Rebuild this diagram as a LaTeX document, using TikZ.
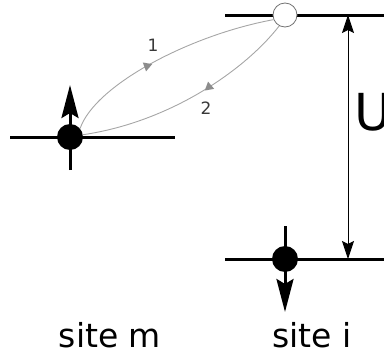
\documentclass[tikz,border=0pt]{standalone}
\usepackage{fontspec}
\setmainfont{DejaVu Sans}
\usetikzlibrary{arrows.meta,shapes.geometric}

\begin{document}
\begin{tikzpicture}[x=1pt,y=-1pt,
  level/.style={line width=3pt},
  spin/.style={line width=3pt,-{Stealth[length=33pt,width=17pt,inset=5pt]}},
  electron/.style={circle,fill=black,minimum size=26pt,inner sep=0pt},
  hole/.style={circle,draw=gray!90!black,fill=white,line width=0.8pt,minimum size=24pt,inner sep=0pt},
  hop/.style={draw=gray!70,line width=0.9pt},
  hopmark/.style={regular polygon,regular polygon sides=3,fill=gray!90,inner sep=0pt,minimum size=11pt},
  hoplabel/.style={text=gray!45!black,font=\fontsize{17}{17}\selectfont,inner sep=0pt},
  gap/.style={line width=0.9pt,{Stealth[length=18pt,width=12pt,inset=3pt]}-{Stealth[length=18pt,width=12pt,inset=3pt]}},
  sitelabel/.style={font=\fontsize{33}{33}\selectfont,anchor=base,inner sep=0pt}]

\useasboundingbox (0,0) rectangle (384,356);
\clip (0,0) rectangle (384,356);

% energy levels
\coordinate (mL) at (10,137);  \coordinate (mR) at (175,137);
\coordinate (tL) at (225,15);  \coordinate (tR) at (390,15);
\coordinate (bL) at (225,259); \coordinate (bR) at (390,259);
\draw[level] (mL) -- (mR);
\draw[level] (tL) -- (tR);
\draw[level] (bL) -- (bR);

% spins
\coordinate (mlow) at (70,170);  \coordinate (mtip) at (70,85);
\coordinate (ihigh) at (285,226); \coordinate (itip) at (285,312);
\draw[spin] (mlow) -- (mtip);
\draw[spin] (ihigh) -- (itip);

% occupied states and the empty upper state
\node[electron] (m) at (70,137) {};
\node[electron] (i) at (285,259) {};
\node[hole] (h) at (285,15) {};

% hopping paths
\draw[hop] (m.40) .. controls (95,85) and (190,35) .. (h.202);
\draw[hop] (h.242) .. controls (245,70) and (170,122) .. (m.10);
\node[hopmark,rotate=170] (a1) at (147,66) {};
\node[hopmark,rotate=10] (a2) at (209,87) {};
\node[hoplabel] (l1) at (153,45) {1};
\node[hoplabel] (l2) at (206,108) {2};

% on-site energy gap
\coordinate (utop) at (348,15);
\coordinate (ubot) at (348,259);
\draw[gap] (utop) -- (ubot);
\node[font=\fontsize{51}{51}\selectfont,anchor=base west,inner sep=0pt] (U) at (354,130) {U};

% site labels
\node[sitelabel] (sm) at (110,347) {site m};
\node[sitelabel] (si) at (312,347) {site i};
\end{tikzpicture}
\end{document}
